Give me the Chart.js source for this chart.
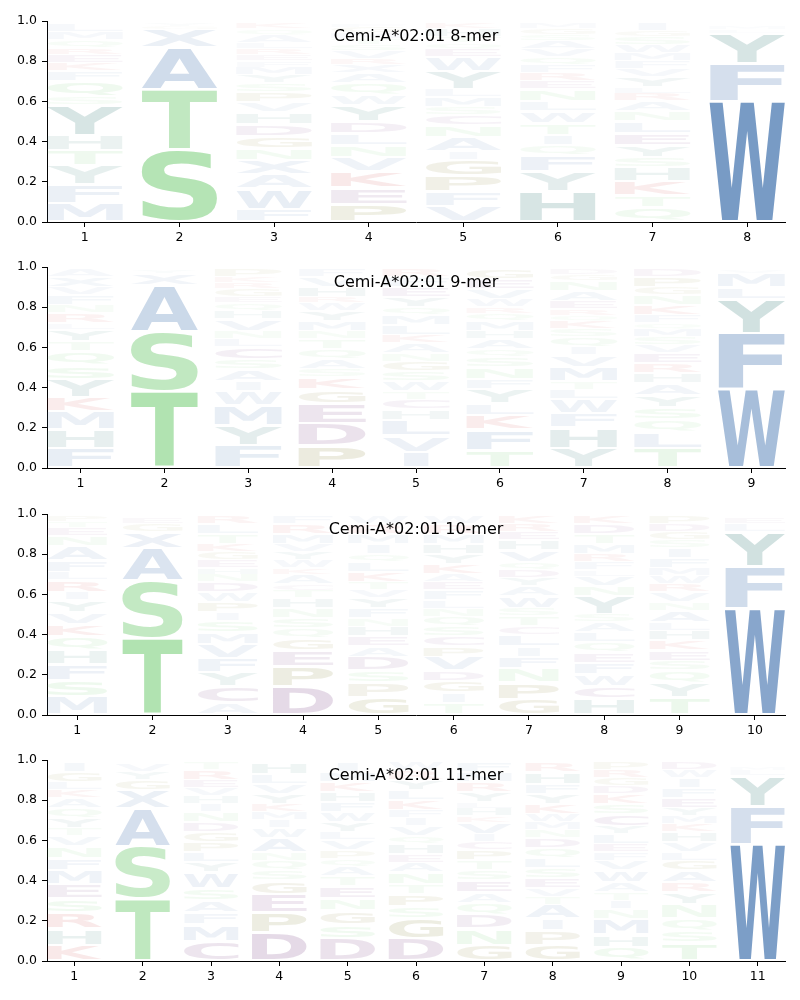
<!DOCTYPE html>
<html><head><meta charset="utf-8">
<script src="https://cdn.jsdelivr.net/npm/chart.js@4/dist/chart.umd.min.js"></script>
<style>
html,body{margin:0;padding:0;background:#fff;}
body{width:800px;height:1000px;position:relative;overflow:hidden;}
canvas{position:absolute;left:0;}
</style></head><body>
<canvas id="c0" width="800" height="250" style="top:0px"></canvas>
<canvas id="c1" width="800" height="250" style="top:246px"></canvas>
<canvas id="c2" width="800" height="250" style="top:493px"></canvas>
<canvas id="c3" width="800" height="250" style="top:739px"></canvas>
<script>
// ---------------- DATA (letters listed bottom -> top, heights = probabilities) ----------------
const yTicks = [0, 0.2, 0.4, 0.6, 0.8, 1.0];

const title8 = 'Cemi-A*02:01 8-mer';
const positions8 = [1, 2, 3, 4, 5, 6, 7, 8];
const letters8 = ['MFYTHYSQFKERQML', 'STAXGY', 'FWAXNGDHVPSYMFERLAQK', 'PEKVNLDYWQAXRVSTMGF',
  'VFPGIANCSMLYWEQTHK', 'HYFQITWLNERFQVASGM', 'QTKHSYELNARLYVFMWSGI', 'WFYLM'];
const heights8 = [
  [.095,.09,.095,.075,.075,.15,.045,.075,.05,.04,.04,.035,.04,.04,.04],
  [.36,.30,.21,.09,.015,.015],
  [.065,.10,.07,.07,.06,.06,.06,.06,.05,.05,.045,.04,.04,.03,.03,.03,.03,.04,.03,.03],
  [.09,.08,.08,.07,.06,.06,.06,.08,.05,.06,.05,.04,.03,.04,.03,.03,.03,.03,.02],
  [.08,.07,.08,.08,.04,.07,.06,.05,.04,.05,.04,.09,.07,.04,.03,.03,.04,.03],
  [.15,.10,.08,.05,.05,.06,.06,.05,.06,.04,.04,.04,.04,.04,.04,.03,.03,.03],
  [.07,.06,.07,.07,.05,.06,.06,.06,.05,.05,.04,.03,.05,.04,.04,.04,.04,.04,.03,.04],
  [.60,.19,.15,.02,.02]
];

const title9 = 'Cemi-A*02:01 9-mer';
const positions9 = [1, 2, 3, 4, 5, 6, 7, 8, 9];
const letters9 = ['FHMKYSQTYLRNFVXA', 'TSAXY', 'FYMWIASCLNVHQEGRKP', 'PDEGKSAQTNMYWRHVF',
  'IVLHCTWSGNAKLMQYEFR', 'TFKLYFNSQAHMQRWVEG', 'YHFWLTMVIQSKQREANGD', 'TLQSYAHREVSMQFKNGPD', 'WFYLMV'];
const heights9 = [
  [.10,.09,.09,.07,.09,.07,.07,.05,.06,.03,.05,.04,.05,.04,.05,.04],
  [.38,.30,.23,.06,.02],
  [.11,.10,.10,.07,.05,.06,.05,.06,.04,.04,.06,.04,.04,.03,.04,.03,.03,.04],
  [.11,.11,.10,.07,.06,.04,.05,.05,.05,.04,.05,.05,.04,.03,.05,.05,.04],
  [.08,.08,.08,.05,.05,.04,.05,.05,.05,.04,.05,.04,.05,.05,.04,.05,.05,.05,.04],
  [.09,.10,.07,.06,.07,.05,.06,.05,.04,.05,.04,.05,.04,.03,.04,.05,.05,.05],
  [.10,.10,.07,.07,.05,.04,.07,.06,.04,.05,.04,.04,.03,.03,.04,.05,.05,.03,.03],
  [.10,.08,.06,.06,.06,.06,.05,.05,.05,.04,.04,.04,.03,.04,.05,.05,.04,.05,.04],
  [.39,.28,.17,.06,.07,.02]
];

const title10 = 'Cemi-A*02:01 10-mer';
const positions10 = [1, 2, 3, 4, 5, 6, 7, 8, 9, 10];
const letters10 = ['MSFHQKVYIRLFANETP', 'TSAXGE', 'ACYFVMSIPWDNHEGKTLR', 'DPEGQSNHTCAKWYVMRF',
  'GPSDAEHNFYVTKLQIMRW', 'TIGDVPCSQNLFEAKYHMRW', 'GPNFILCTSWAYDQVHERK', 'HCWFEQLASYNVLFRMTDK',
  'TYQSEKHLANVRWMFISGDP', 'WFYLE'];
const heights10 = [
  [.09,.08,.08,.07,.07,.06,.06,.06,.04,.06,.04,.06,.07,.05,.04,.03,.03],
  [.38,.29,.16,.08,.04,.03],
  [.06,.08,.07,.07,.07,.06,.06,.04,.05,.05,.05,.04,.03,.04,.04,.04,.05,.05,.04],
  [.14,.10,.08,.06,.05,.05,.05,.05,.04,.03,.05,.03,.04,.04,.04,.05,.05,.04],
  [.09,.07,.06,.07,.05,.05,.05,.04,.05,.05,.04,.04,.05,.05,.04,.05,.05,.05,.04],
  [.06,.05,.06,.05,.07,.05,.05,.05,.05,.04,.04,.05,.04,.04,.05,.05,.05,.05,.05,.04],
  [.08,.08,.07,.06,.05,.06,.04,.05,.04,.06,.05,.04,.04,.04,.06,.05,.04,.04,.04],
  [.08,.06,.06,.06,.05,.05,.05,.05,.04,.09,.05,.05,.03,.04,.04,.05,.05,.05,.04],
  [.09,.07,.06,.05,.05,.05,.05,.04,.06,.04,.05,.04,.04,.04,.05,.05,.04,.04,.04,.04],
  [.53,.21,.17,.04,.03]
];

const title11 = 'Cemi-A*02:01 11-mer';
const positions11 = [1, 2, 3, 4, 5, 6, 7, 8, 9, 10, 11];
const letters11 = ['KHRSEMFNVTYQAKLGI', 'TSAXGYV', 'CMFASWYLPGDNIHVERT', 'DPEGSQNAWIMKYVLH',
  'DSGNETAQPVLYWFHKMI', 'DGSPTNAEHQVIFKLYRW', 'GNDQAESTPCIVKHLYRMF', 'GPIATVESLQDNMWKYFHR',
  'QHMNITAWVFELYCSKDGRP', 'TSQNYRAGLVHKMYEFIWD', 'WFYLM'];
const heights11 = [
  [.08,.08,.08,.07,.07,.07,.06,.06,.05,.04,.05,.05,.05,.04,.04,.05,.05],
  [.31,.26,.19,.09,.05,.04,.04],
  [.10,.08,.06,.06,.06,.08,.05,.05,.05,.05,.05,.05,.04,.04,.04,.04,.05,.04],
  [.14,.10,.09,.07,.05,.05,.04,.07,.05,.04,.04,.04,.05,.05,.05,.06],
  [.11,.07,.07,.06,.06,.05,.05,.04,.04,.05,.04,.05,.05,.05,.05,.05,.05,.05],
  [.11,.10,.06,.06,.05,.06,.05,.04,.05,.04,.05,.04,.04,.05,.05,.05,.05,.04],
  [.08,.08,.07,.06,.05,.06,.05,.05,.05,.04,.04,.06,.03,.04,.03,.05,.05,.05,.05],
  [.08,.07,.06,.07,.04,.04,.05,.05,.05,.05,.05,.04,.04,.04,.05,.05,.05,.06,.05],
  [.07,.06,.08,.05,.04,.04,.05,.06,.05,.04,.04,.05,.04,.06,.05,.05,.04,.04,.04,.04],
  [.09,.06,.06,.07,.06,.05,.06,.05,.04,.05,.05,.04,.04,.04,.05,.05,.05,.04,.04],
  [.58,.19,.15,.03,.02]
];

// ---------------- STYLE ----------------
const groupColor = {
  blue:   [75, 121, 178],
  teal:   [40, 115, 110],
  green:  [90, 195, 90],
  purple: [110, 45, 120],
  red:    [200, 40, 40],
  olive:  [115, 110, 20]
};
const letterGroup = {A:'blue',V:'blue',L:'blue',I:'blue',M:'blue',F:'blue',W:'blue',X:'blue',
  Y:'teal',H:'teal',S:'green',T:'green',N:'green',Q:'green',G:'olive',P:'olive',
  D:'purple',E:'purple',C:'purple',K:'red',R:'red'};
function letterColor(ch, h) {
  const c = groupColor[letterGroup[ch] || 'blue'];
  const a = Math.min(1, h * 1.25);
  return `rgba(${c[0]},${c[1]},${c[2]},${a.toFixed(3)})`;
}

const GLYPH_FONT = 'bold 200px "DejaVu Sans"';
const measureCtx = document.createElement('canvas').getContext('2d');
const glyphCache = {};
function glyphBox(ch) {
  if (!glyphCache[ch]) {
    measureCtx.font = GLYPH_FONT;
    const m = measureCtx.measureText(ch);
    glyphCache[ch] = {l: m.actualBoundingBoxLeft, r: m.actualBoundingBoxRight,
      a: m.actualBoundingBoxAscent, d: m.actualBoundingBoxDescent};
  }
  return glyphCache[ch];
}
function drawGlyph(ctx, ch, x, top, w, h, color) {
  if (h <= 0.3) return;
  const g = glyphBox(ch), gE = glyphBox('E');
  const gw = g.l + g.r, gh = g.a + g.d, gwE = gE.l + gE.r;
  const sx = Math.min(w / gw, w / gwE);
  const sy = h / gh;
  const x0 = x + (w - gw * sx) / 2;
  ctx.save();
  ctx.translate(x0 + g.l * sx, top + g.a * sy);
  ctx.scale(sx, sy);
  ctx.font = GLYPH_FONT;
  ctx.textAlign = 'left';
  ctx.textBaseline = 'alphabetic';
  ctx.fillStyle = color;
  ctx.fillText(ch, 0, 0);
  ctx.restore();
}

const logoPlugin = {
  id: 'logoLetters',
  afterDatasetsDraw(chart) {
    const ctx = chart.ctx;
    chart.data.datasets.forEach((ds, k) => {
      const meta = chart.getDatasetMeta(k);
      meta.data.forEach((el, i) => {
        const ch = ds.letters[i];
        const v = ds.data[i].y;
        if (!ch || !v) return;
        const p = el.getProps(['x', 'y', 'base', 'width'], true);
        const top = Math.min(p.y, p.base), bot = Math.max(p.y, p.base);
        const pad = Math.min(1.4, (bot - top) * 0.12);
        drawGlyph(ctx, ch, p.x - p.width / 2, top + pad, p.width, bot - top - 2 * pad, letterColor(ch, v));
      });
    });
  }
};
const titlePlugin = {
  id: 'panelTitle',
  afterDraw(chart, args, opts) {
    const ctx = chart.ctx, a = chart.chartArea;
    ctx.save();
    ctx.font = '16px "DejaVu Sans"';
    ctx.fillStyle = '#000';
    ctx.textAlign = 'center';
    ctx.textBaseline = 'alphabetic';
    ctx.fillText(opts.text, (a.left + a.right) / 2, a.top + 20);
    ctx.restore();
  }
};

function makeChart(id, title, positions, letters, heights) {
  const nLevels = Math.max(...letters.map(s => s.length));
  const datasets = [];
  for (let k = 0; k < nLevels; k++) {
    datasets.push({
      data: positions.map((p, i) => ({x: p, y: k < letters[i].length ? heights[i][k] : 0})),
      letters: letters.map(s => s[k] || null),
      backgroundColor: 'rgba(0,0,0,0)',
      borderWidth: 0,
      barPercentage: 0.8,
      categoryPercentage: 1.0
    });
  }
  const tickFont = {family: '"DejaVu Sans"', size: 12.5};
  return new Chart(document.getElementById(id), {
    type: 'bar',
    data: {datasets},
    plugins: [logoPlugin, titlePlugin],
    options: {
      responsive: false,
      animation: false,
      devicePixelRatio: 1,
      layout: {padding: {top: 21, right: 15, left: 0, bottom: 0}},
      plugins: {legend: {display: false}, tooltip: {enabled: false}, panelTitle: {text: title}},
      scales: {
        x: {
          type: 'linear', stacked: true, offset: false,
          min: positions[0] - 0.4, max: positions[positions.length - 1] + 0.4,
          afterBuildTicks: s => { s.ticks = positions.map(v => ({value: v})); },
          afterFit: s => { s.height = 28; },
          ticks: {font: tickFont, color: '#000', padding: 3, autoSkip: false, maxRotation: 0,
            callback: v => String(v)},
          grid: {display: true, offset: false, drawOnChartArea: false, drawTicks: true, tickLength: 5, color: '#000'},
          border: {display: true, color: '#000', width: 1}
        },
        y: {
          stacked: true, min: 0, max: 1,
          afterBuildTicks: s => { s.ticks = yTicks.map(v => ({value: v})); },
          afterFit: s => { s.width = 47; },
          ticks: {font: tickFont, color: '#000', padding: 5, callback: v => Number(v).toFixed(1)},
          grid: {display: true, drawOnChartArea: false, drawTicks: true, tickLength: 5, color: '#000'},
          border: {display: true, color: '#000', width: 1}
        }
      }
    }
  });
}

makeChart('c0', title8, positions8, letters8, heights8);
makeChart('c1', title9, positions9, letters9, heights9);
makeChart('c2', title10, positions10, letters10, heights10);
makeChart('c3', title11, positions11, letters11, heights11);
</script>
</body></html>
